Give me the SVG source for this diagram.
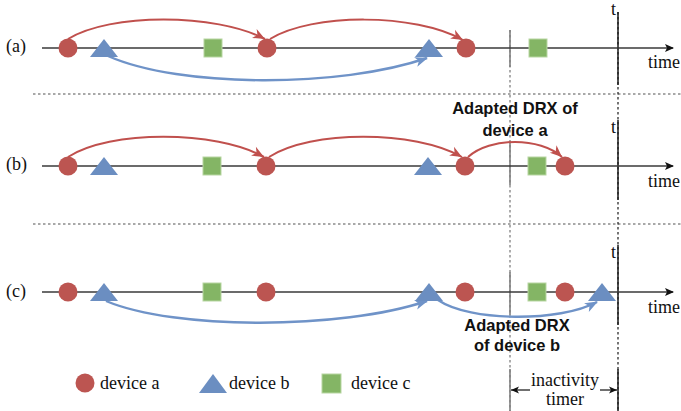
<svg xmlns="http://www.w3.org/2000/svg" width="681" height="411" viewBox="0 0 681 411">
  <style>
    .axis { stroke: #3a3a3a; stroke-width: 1.5; fill: none; }
    .sep { stroke: #8c8c8c; stroke-width: 1.3; stroke-dasharray: 2.5 2.5; fill: none; }
    .vgray { stroke: #808080; stroke-width: 1.6; fill: none; }
    .vgray-d { stroke: #808080; stroke-width: 1.3; stroke-dasharray: 2.5 2.5; fill: none; }
    .vblack { stroke: #1a1a1a; stroke-width: 1.5; fill: none; }
    .vblack-d { stroke: #1a1a1a; stroke-width: 1.2; stroke-dasharray: 2.5 2.5; fill: none; }
    .a { fill: #BC5551; }
    .b { fill: #6B8EC1; }
    .c { fill: #84B565; stroke: #B7D6A2; stroke-width: 1; }
    .red { stroke: #C0504D; stroke-width: 2; fill: none; }
    .blue { stroke: #6F93C8; stroke-width: 2.4; fill: none; }
    .lbl { font-family: "Liberation Serif", "Times New Roman", serif; font-size: 18px; fill: #111; }
    .bold { font-family: "Liberation Sans", Arial, sans-serif; font-size: 16.5px; font-weight: bold; fill: #111; text-anchor: middle; }
  </style>
  <defs>
    <marker id="arrRed" markerUnits="userSpaceOnUse" markerWidth="14" markerHeight="12" refX="12" refY="5" orient="auto" overflow="visible">
      <path d="M0,0 L12,5 L0,10 L3.5,5 z" fill="#C0504D"/>
    </marker>
    <marker id="arrBlue" markerUnits="userSpaceOnUse" markerWidth="14" markerHeight="12" refX="12" refY="5" orient="auto" overflow="visible">
      <path d="M0,0 L13,5 L0,10 L3.5,5 z" fill="#6F93C8"/>
    </marker>
    <marker id="arrAxis" markerUnits="userSpaceOnUse" markerWidth="10" markerHeight="10" refX="8" refY="4" orient="auto" overflow="visible">
      <path d="M0,0 L9,4 L0,8 L2,4 z" fill="#111"/>
    </marker>
    <marker id="arrSmall" markerUnits="userSpaceOnUse" markerWidth="10" markerHeight="10" refX="8" refY="3.5" orient="auto" overflow="visible">
      <path d="M0,0 L8,3.5 L0,7 L2,3.5 z" fill="#111"/>
    </marker>
  </defs>

  <!-- panel separators -->
  <line class="sep" x1="33" y1="94" x2="681" y2="94"/>
  <line class="sep" x1="33" y1="224" x2="681" y2="224"/>

  <!-- reference line at x=510: solid near each axis, dashed between -->
  <g id="ref-line">
    <line class="vgray-d" x1="510" y1="30" x2="510" y2="411"/>
    <line class="vgray" x1="510" y1="30" x2="510" y2="67"/>
    <line class="vgray" x1="510" y1="141" x2="510" y2="185"/>
    <line class="vgray" x1="510" y1="272" x2="510" y2="315"/>
    <line class="vgray" x1="510" y1="369" x2="510" y2="411"/>
  </g>

  <!-- time instant t at x=618 -->
  <g id="t-line">
    <line class="vblack-d" x1="618" y1="12" x2="618" y2="411"/>
    <line class="vblack" x1="618" y1="12" x2="618" y2="85"/>
    <line class="vblack" x1="618" y1="120" x2="618" y2="200"/>
    <line class="vblack" x1="618" y1="245" x2="618" y2="325"/>
    <line class="vblack" x1="618" y1="369" x2="618" y2="411"/>
    <text class="lbl" x="611" y="15">t</text>
    <text class="lbl" x="611" y="133">t</text>
    <text class="lbl" x="611" y="258">t</text>
  </g>

  <!-- time axes -->
  <g id="axes">
    <line class="axis" x1="42" y1="48" x2="673" y2="48" marker-end="url(#arrAxis)"/>
    <line class="axis" x1="42" y1="166" x2="673" y2="166" marker-end="url(#arrAxis)"/>
    <line class="axis" x1="42" y1="292" x2="673" y2="292" marker-end="url(#arrAxis)"/>
    <text class="lbl" x="648" y="68">time</text>
    <text class="lbl" x="648" y="187">time</text>
    <text class="lbl" x="648" y="313">time</text>
    <text class="lbl" x="6" y="52">(a)</text>
    <text class="lbl" x="6" y="170">(b)</text>
    <text class="lbl" x="6" y="297">(c)</text>
  </g>

  <!-- connectors -->
  <g id="connectors">
    <!-- (a) -->
    <path class="red" d="M68,39 C110,13 215,13 265,39" marker-end="url(#arrRed)"/>
    <path class="red" d="M270,39 C312,13 415,13 463,40" marker-end="url(#arrRed)"/>
    <path class="blue" d="M108,56 C180,88 340,88 427,58" marker-end="url(#arrBlue)"/>
    <!-- (b) -->
    <path class="red" d="M68,157 C110,130 215,130 264,157" marker-end="url(#arrRed)"/>
    <path class="red" d="M269,157 C311,130 414,130 462,157" marker-end="url(#arrRed)"/>
    <path class="red" d="M468,157 C490,137 540,137 562,157" marker-end="url(#arrRed)"/>
    <!-- (c) -->
    <path class="blue" d="M106,301 C175,330 340,330 427,301" marker-end="url(#arrBlue)"/>
    <path class="blue" d="M438,300 C470,322 560,322 597,302" marker-end="url(#arrBlue)"/>
  </g>

  <!-- row (a) nodes -->
  <g id="a-dev-a1"><circle class="a" cx="68" cy="48" r="9.5"/></g>
  <g id="a-dev-b1"><polygon class="b" points="104,39 118,57 90,57"/></g>
  <g id="a-dev-c1"><rect class="c" x="204" y="39" width="18" height="18"/></g>
  <g id="a-dev-a2"><circle class="a" cx="267" cy="48" r="9.5"/></g>
  <g id="a-dev-b2"><polygon class="b" points="429,39 443,57 415,57"/></g>
  <g id="a-dev-a3"><circle class="a" cx="466" cy="48" r="9.5"/></g>
  <g id="a-dev-c2"><rect class="c" x="529" y="39" width="18" height="18"/></g>

  <!-- row (b) nodes -->
  <g id="b-dev-a1"><circle class="a" cx="68" cy="166" r="9.5"/></g>
  <g id="b-dev-b1"><polygon class="b" points="104,157 118,175 90,175"/></g>
  <g id="b-dev-c1"><rect class="c" x="203" y="157" width="18" height="18"/></g>
  <g id="b-dev-a2"><circle class="a" cx="266" cy="166" r="9.5"/></g>
  <g id="b-dev-b2"><polygon class="b" points="428,157 442,175 414,175"/></g>
  <g id="b-dev-a3"><circle class="a" cx="465" cy="166" r="9.5"/></g>
  <g id="b-dev-c2"><rect class="c" x="528" y="157" width="18" height="18"/></g>
  <g id="b-dev-a4"><circle class="a" cx="565" cy="166" r="9.5"/></g>

  <!-- row (c) nodes -->
  <g id="c-dev-a1"><circle class="a" cx="68" cy="292" r="9.5"/></g>
  <g id="c-dev-b1"><polygon class="b" points="104,283 118,301 90,301"/></g>
  <g id="c-dev-c1"><rect class="c" x="203" y="283" width="18" height="18"/></g>
  <g id="c-dev-a2"><circle class="a" cx="266" cy="292" r="9.5"/></g>
  <g id="c-dev-b2"><polygon class="b" points="429,283 443,301 415,301"/></g>
  <g id="c-dev-a3"><circle class="a" cx="465" cy="292" r="9.5"/></g>
  <g id="c-dev-c2"><rect class="c" x="528" y="283" width="18" height="18"/></g>
  <g id="c-dev-a4"><circle class="a" cx="565" cy="292" r="9.5"/></g>
  <g id="c-dev-b3"><polygon class="b" points="602,283 616,301 588,301"/></g>

  <!-- annotations -->
  <g id="label-drx-a">
    <text class="bold" x="515" y="114">Adapted DRX of</text>
    <text class="bold" x="515" y="136">device a</text>
  </g>
  <g id="label-drx-b">
    <text class="bold" x="517" y="331">Adapted DRX</text>
    <text class="bold" x="517" y="351">of device b</text>
  </g>

  <!-- inactivity timer span -->
  <g id="inactivity-timer">
    <line stroke="#111" stroke-width="1.2" x1="530" y1="390" x2="511" y2="390" marker-end="url(#arrSmall)"/>
    <line stroke="#111" stroke-width="1.2" x1="600" y1="390" x2="617" y2="390" marker-end="url(#arrSmall)"/>
    <text class="lbl" x="565" y="386" text-anchor="middle">inactivity</text>
    <text class="lbl" x="565" y="405" text-anchor="middle">timer</text>
  </g>

  <!-- legend -->
  <g id="legend">
    <circle class="a" cx="85" cy="383" r="9.5"/>
    <text class="lbl" x="100" y="389">device a</text>
    <polygon class="b" points="213,374 227,393 199,393"/>
    <text class="lbl" x="229" y="389">device b</text>
    <rect class="c" x="322" y="374" width="19" height="19"/>
    <text class="lbl" x="351" y="389">device c</text>
  </g>
</svg>
